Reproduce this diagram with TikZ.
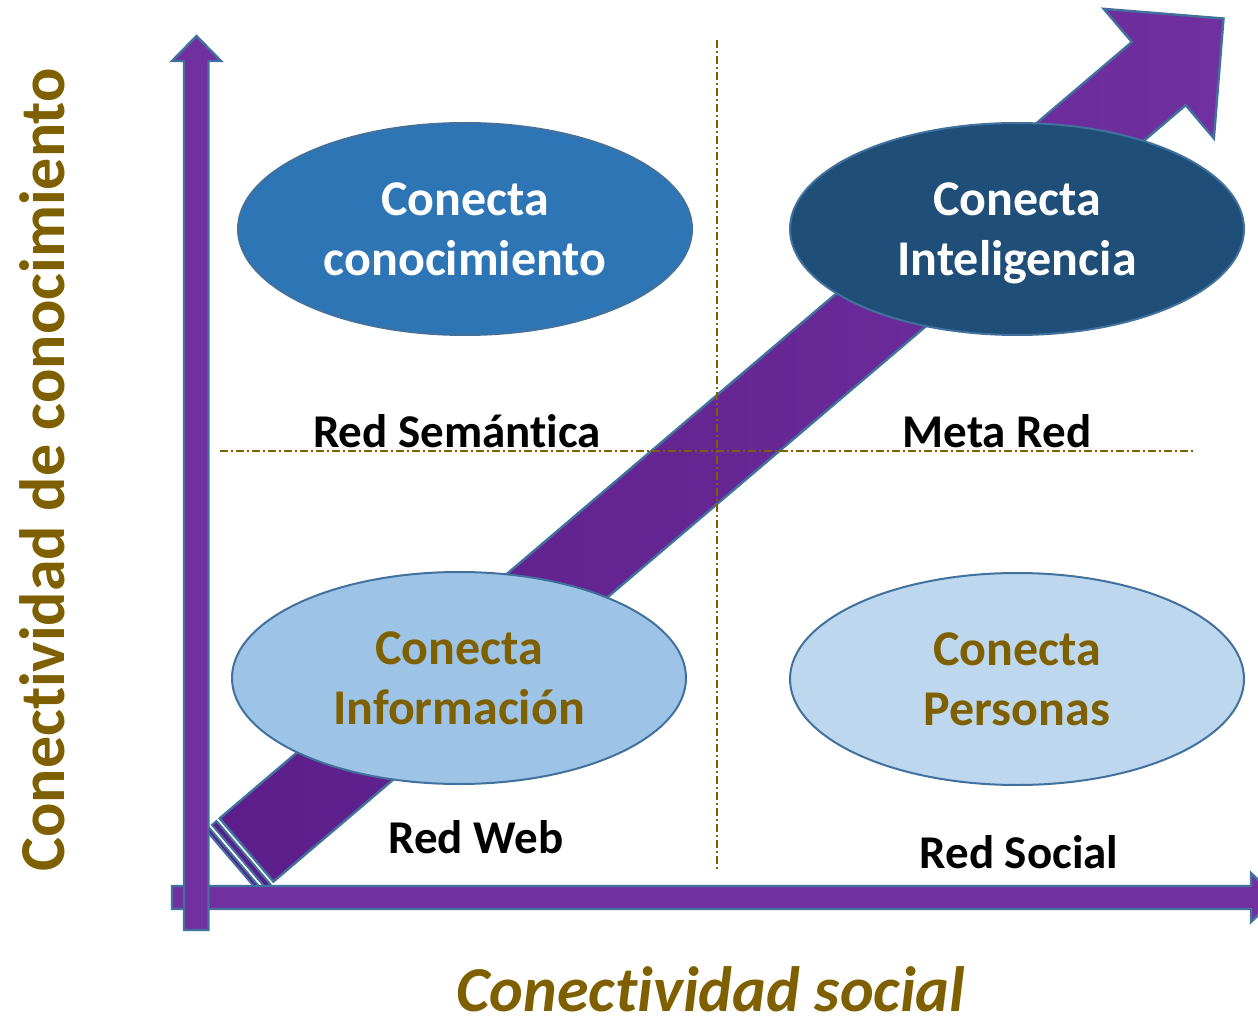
\documentclass[tikz,border=0pt]{standalone}
\usepackage{fontspec}
\setmainfont{Carlito}[Ligatures=NoCommon]
\usetikzlibrary{shapes.geometric, positioning}

\definecolor{purp}{HTML}{7030A0}
\definecolor{purpdark}{HTML}{5C1E8A}
\definecolor{edge}{HTML}{41719C}
\definecolor{gold}{HTML}{7F6000}
\definecolor{blueA}{HTML}{2E75B6}
\definecolor{blueB}{HTML}{1F4E79}
\definecolor{blueC}{HTML}{9DC3E6}
\definecolor{blueD}{HTML}{BDD7EE}

% keep t and i apart (Carlito joins them)
\newcommand{\tI}{t\kern0pt i}

\begin{document}
\begin{tikzpicture}[
  x=0.5pt, y=-0.5pt,
  bubble/.style={
    ellipse,
    draw=edge,
    line width=1pt,
    inner sep=2pt,
    minimum width=227pt,
    minimum height=106pt,
    align=center,
    font=\fontsize{25}{30}\selectfont\bfseries
  },
  tag/.style={font=\fontsize{23.5}{28}\selectfont\bfseries, anchor=base},
  bar/.style={fill=purp, draw=edge, line width=1.2pt, line join=miter},
  guide/.style={draw=gold, line width=0.6pt, dash pattern=on 4pt off 1.5pt on 1pt off 1.5pt},
  axislabel/.style={font=\fontsize{32}{38}\selectfont\bfseries, text=gold, anchor=base, inner sep=1pt}
]
\useasboundingbox (0,0) rectangle (1258,1026);

% Growth arrow (drawn along its own axis)
\begin{scope}[shift={(246.5,850)}, rotate=40.4]
  \path[left color=purpdark, right color=purp, draw=edge, line width=1.2pt]
    (0,-41.5) -- (1198,-41.5) -- (1198,-85) -- (1283,0) -- (1198,85) -- (1198,41.5) -- (0,41.5) -- cycle;
  \draw[fill=purpdark, draw=edge, line width=1pt] (-4,-41.5) rectangle (-10,41.5);
  \draw[fill=purpdark, draw=edge, line width=1pt] (-14,-41.5) rectangle (-18,41.5);
\end{scope}

% Quadrant guides
\coordinate (vtop) at (717,40);
\coordinate (vbot) at (717,870);
\coordinate (hleft) at (220,451);
\coordinate (hright) at (1195,451);
\draw[guide] (vtop) -- (vbot);
\draw[guide] (hleft) -- (hright);

% Quadrant bubbles
\node[bubble, fill=blueA, text=white] (know) at (465,229) {Conecta\\conocimiento};
\node[bubble, fill=blueB, text=white] (intel) at (1017,229) {Conecta\\\smash{Inteligencia}};
\node[bubble, fill=blueC, text=gold] (info) at (459,678) {Conecta\\Información};
\node[bubble, fill=blueD, text=gold] (people) at (1017,679) {Conecta\\Personas};

% Axes
\draw[bar] (172,886) -- (1251,886) -- (1251,873) -- (1276,897.5) -- (1251,922) -- (1251,909) -- (172,909) -- cycle;
\draw[bar] (184,930) -- (184,61) -- (172,61) -- (196.5,36) -- (221,61) -- (208.5,61) -- (208.5,930) -- cycle;

% Quadrant names
\node[tag] (semantic) at (457,447) {Red Semán\tI ca};
\node[tag] (meta) at (997,447) {Meta Red};
\node[tag] (web) at (476,853) {Red Web};
\node[tag] (social) at (1019,868) {Red Social};

% Axis titles
\node[axislabel, rotate=90] (ylabel) at (64,470) {Conec\tI vidad de conocimiento};
\node[axislabel, font=\fontsize{32}{38}\selectfont\bfseries\itshape] (xlabel) at (711,1011) {Conec\tI vidad social};

\end{tikzpicture}
\end{document}
